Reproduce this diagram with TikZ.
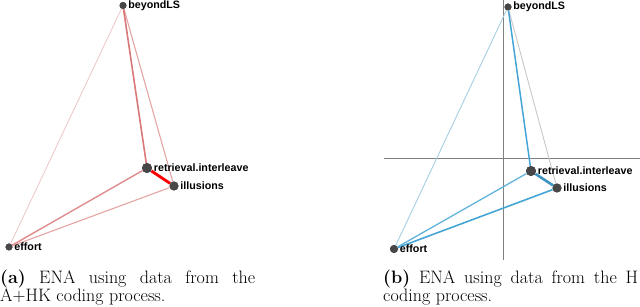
\documentclass[tikz,border=0pt]{standalone}
\usepackage{fontspec}
\newfontfamily\lblfont{Liberation Sans}
\tikzset{
  dot/.style={circle, fill=black!72, inner sep=0pt, minimum size=#1},
  dot/.default=7pt,
  lbl/.style={anchor=west, inner sep=1.5pt, font=\lblfont\bfseries\fontsize{10.7}{12}\selectfont},
  capt/.style={anchor=north west, inner sep=0pt, text width=255pt, align=justify,
    font=\fontsize{18}{17.5}\selectfont},
}
\definecolor{redA}{HTML}{D97878}
\definecolor{redB}{HTML}{E4A4A4}
\definecolor{redC}{HTML}{EECACA}
\definecolor{blueA}{HTML}{45A5D6}
\definecolor{blueB}{HTML}{62B3DC}
\definecolor{blueC}{HTML}{A6CEE2}
\begin{document}
\begin{tikzpicture}[x=1pt, y=-1pt]
  \useasboundingbox (0,0) rectangle (640,307);
  % (a) A+HK
  \node[dot=7pt] (bLSa) at (123,5.5) {};
  \node[dot=10pt] (retra) at (147,168) {};
  \node[dot=9pt] (illa) at (174,186) {};
  \node[dot=7pt] (effa) at (9,247) {};
  \draw[redC, line width=0.9pt] (bLSa) -- (effa);
  \draw[redB, line width=1.1pt] (bLSa) -- (illa);
  \draw[redA, line width=1.6pt] (bLSa) -- (retra);
  \draw[redB, line width=1.1pt] (illa) -- (effa);
  \draw[redA!85, line width=1.4pt] (retra) -- (effa);
  \draw[red, line width=2.8pt] (retra) -- (illa);
  \node[dot=7pt] at (bLSa) {};
  \node[dot=10pt] at (retra) {};
  \node[dot=9pt] at (illa) {};
  \node[dot=7pt] at (effa) {};
  \node[lbl] at (bLSa.east) {beyondLS};
  \node[lbl] at (retra.east) {retrieval.interleave};
  \node[lbl] at (illa.east) {illusions};
  \node[lbl] at (effa.east) {effort};
  \node[capt] (capa) at (0,270) {\hyphenpenalty=10000 \textbf{(a)} ENA using data from the A+HK coding process.};
  % (b) H
  \coordinate (xl) at (384,158);
  \coordinate (xr) at (640,158);
  \coordinate (yt) at (503,0);
  \coordinate (yb) at (503,260);
  \draw[black!50, line width=0.6pt] (xl) -- (xr);
  \draw[black!50, line width=0.6pt] (yt) -- (yb);
  \node[dot=7pt] (bLSb) at (508,7) {};
  \node[dot=10pt] (retrb) at (531,171) {};
  \node[dot=9pt] (illb) at (557,188) {};
  \node[dot=8pt] (effb) at (394,249) {};
  \draw[blueC, line width=0.9pt] (bLSb) -- (effb);
  \draw[black!22, line width=0.9pt] (bLSb) -- (illb);
  \draw[blueA, line width=1.5pt] (bLSb) -- (retrb);
  \draw[blueA, line width=1.6pt] (illb) -- (effb);
  \draw[blueB, line width=1.3pt] (retrb) -- (effb);
  \draw[blueA!90!black, line width=2.6pt] (retrb) -- (illb);
  \node[dot=7pt] at (bLSb) {};
  \node[dot=10pt] at (retrb) {};
  \node[dot=9pt] at (illb) {};
  \node[dot=8pt] at (effb) {};
  \node[lbl] at (bLSb.east) {beyondLS};
  \node[lbl] at (retrb.east) {retrieval.interleave};
  \node[lbl] at (illb.east) {illusions};
  \node[lbl] at (effb.east) {effort};
  \node[capt] (capb) at (383,270) {\hyphenpenalty=10000 \textbf{(b)} ENA using data from the H coding process.};
\end{tikzpicture}
\end{document}
